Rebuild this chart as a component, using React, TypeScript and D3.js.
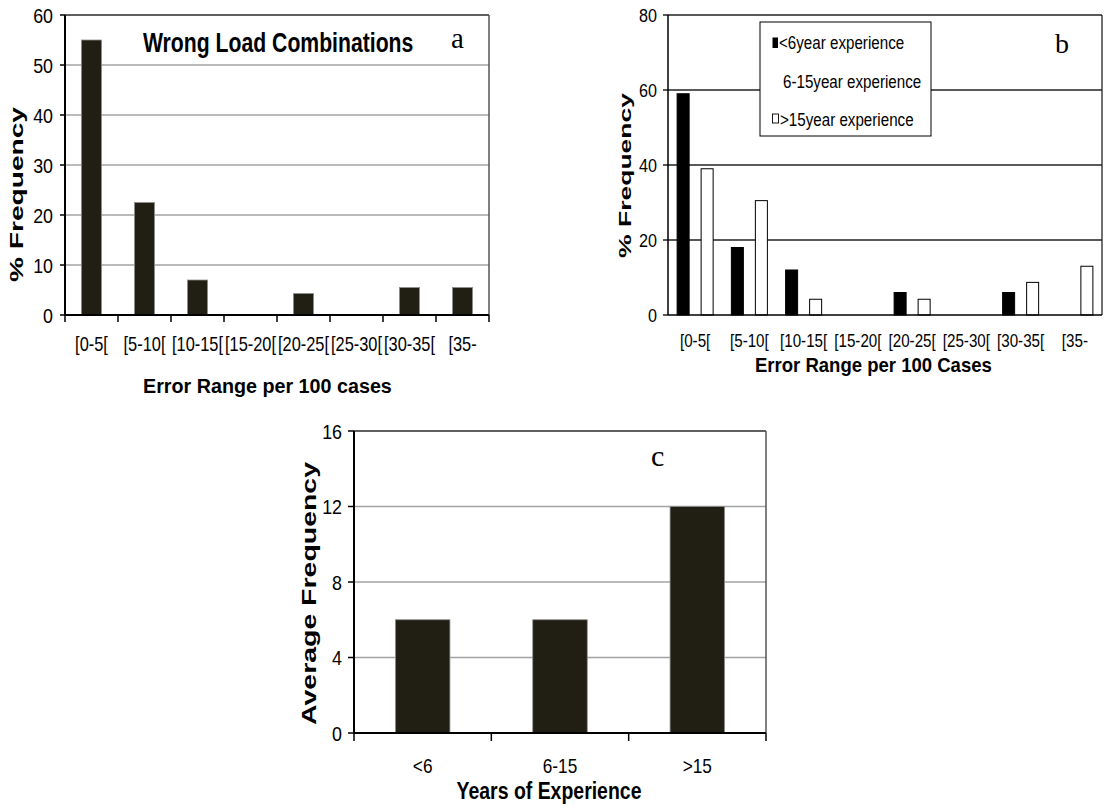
import React from "react";
import * as d3 from "d3";

// ---------- data ----------
const rangeCats = ["[0-5[", "[5-10[", "[10-15[", "[15-20[", "[20-25[", "[25-30[", "[30-35[", "[35-"];
const wrongLoadValues = [55, 22.5, 7, 0, 4.3, 0, 5.5, 5.5];
const aTicks = [0, 10, 20, 30, 40, 50, 60];

const seriesKeys = ["<6year experience", "6-15year experience", ">15year experience"];
const lessThan6 = [59, 18, 12, 0, 6, 0, 6, 0];
const from6to15 = [0, 0, 0, 0, 0, 0, 0, 0];
const moreThan15 = [39, 30.5, 4.2, 0, 4.2, 0, 8.7, 13];
const bTicks = [0, 20, 40, 60, 80];

const expCats = ["<6", "6-15", ">15"];
const avgFreq = [6, 6, 12];
const cTicks = [0, 4, 8, 12, 16];

const SANS = "'Liberation Sans', Arial, sans-serif";
const SERIF = "'Liberation Serif', 'Times New Roman', serif";
const BAR = "#211e13";

// narrow text: Liberation Sans squeezed horizontally (emulates Arial Narrow)
function NT(props: {
  x: number; y: number; size: number; anchor?: string; weight?: string; dy?: string;
  sx?: number; sy?: number; children: React.ReactNode;
}) {
  const { x, y, size, anchor = "start", weight = "normal", dy, sx = 0.82, sy = 1, children } = props;
  return (
    <text transform={`translate(${x},${y}) scale(${sx},${sy})`} textAnchor={anchor} dy={dy}
      fontFamily={SANS} fontWeight={weight} fontSize={size}>{children}</text>
  );
}

function PanelA() {
  const x = d3.scaleBand<string>().domain(rangeCats).range([65, 489]);
  const y = d3.scaleLinear().domain([0, 60]).range([315, 15]);
  const bw = x.bandwidth() * 0.38;
  return (
    <g>
      {aTicks.filter((t) => t > 0 && t < 60).map((t) => (
        <line key={t} x1={65} x2={489} y1={y(t)} y2={y(t)} stroke="#a3a3a3" strokeWidth={1.5} />
      ))}
      <line x1={65} x2={489} y1={y(60)} y2={y(60)} stroke="#2a2a2a" strokeWidth={1.5} />
      <line x1={489} x2={489} y1={y(60)} y2={y(0)} stroke="#555" strokeWidth={1.5} />
      {wrongLoadValues.map((v, i) =>
        v > 0 ? (
          <rect key={i} x={x(rangeCats[i])! + (x.bandwidth() - bw) / 2} y={y(v)} width={bw} height={y(0) - y(v)}
            fill={BAR} stroke="#8f8f8f" strokeWidth={0.8} />
        ) : null
      )}
      <line x1={65} x2={65} y1={y(60)} y2={y(0)} stroke="#000" strokeWidth={2} />
      <line x1={65} x2={489} y1={y(0)} y2={y(0)} stroke="#000" strokeWidth={2} />
      {aTicks.map((t) => (
        <g key={t}>
          <line x1={60} x2={65} y1={y(t)} y2={y(t)} stroke="#000" strokeWidth={1.5} />
          <NT x={53} y={y(t)} dy="0.36em" anchor="end" size={21} sx={0.85}>{t}</NT>
        </g>
      ))}
      {rangeCats.map((c, i) => (
        <line key={"t" + i} x1={x(c)!} x2={x(c)!} y1={315} y2={322} stroke="#000" strokeWidth={1.5} />
      ))}
      <line x1={489} x2={489} y1={315} y2={322} stroke="#000" strokeWidth={1.5} />
      {rangeCats.map((c) => (
        <NT key={c} x={x(c)! + x.bandwidth() / 2} y={351} anchor="middle" size={20}>{c}</NT>
      ))}
      <NT x={143} y={52} size={27} weight="bold" sx={0.785}>Wrong Load Combinations</NT>
      <text x={451} y={48} fontFamily={SERIF} fontSize={29}>a</text>
      <NT x={143} y={393} size={21} weight="bold" sx={0.94}>Error Range per 100 cases</NT>
      <text transform="translate(23,194.5) rotate(-90)" textAnchor="middle" fontFamily={SANS} fontWeight="bold" fontSize={17.5} textLength={175} lengthAdjust="spacingAndGlyphs">% Frequency</text>
    </g>
  );
}

function PanelB() {
  const x0 = d3.scaleBand<string>().domain(rangeCats).range([668, 1102]);
  const groupW = x0.bandwidth() * 0.664;
  const x1 = d3.scaleBand<string>().domain(seriesKeys).range([0, groupW]);
  const y = d3.scaleLinear().domain([0, 80]).range([315, 15]);
  const series = [lessThan6, from6to15, moreThan15];
  const fills = ["#000", "none", "#fff"];
  const strokes = ["#000", "none", "#000"];
  return (
    <g>
      {bTicks.filter((t) => t > 0).map((t) => (
        <line key={t} x1={668} x2={1102} y1={y(t)} y2={y(t)} stroke="#222" strokeWidth={1.3} />
      ))}
      <line x1={1102} x2={1102} y1={y(80)} y2={y(0)} stroke="#222" strokeWidth={1.3} />
      {series.map((vals, si) =>
        vals.map((v, i) =>
          v > 0 ? (
            <rect key={si + "-" + i} x={x0(rangeCats[i])! + (x0.bandwidth() - groupW) / 2 + x1(seriesKeys[si])!}
              y={y(v)} width={x1.bandwidth()} height={y(0) - y(v)} fill={fills[si]} stroke={strokes[si]} strokeWidth={1} />
          ) : null
        )
      )}
      <line x1={668} x2={668} y1={y(80)} y2={y(0)} stroke="#000" strokeWidth={1.5} />
      <line x1={668} x2={1102} y1={y(0)} y2={y(0)} stroke="#000" strokeWidth={1.5} />
      {bTicks.map((t) => (
        <g key={t}>
          <line x1={663} x2={668} y1={y(t)} y2={y(t)} stroke="#000" strokeWidth={1.3} />
          <NT x={657} y={y(t)} dy="0.36em" anchor="end" size={19} sx={0.85}>{t}</NT>
        </g>
      ))}
      {rangeCats.map((c) => (
        <NT key={c} x={x0(c)! + x0.bandwidth() / 2} y={347} anchor="middle" size={18.5}>{c}</NT>
      ))}
      <rect x={760} y={22} width={171} height={114} fill="#fff" stroke="#000" strokeWidth={1} />
      <rect x={772.5} y={37.5} width={5.5} height={10.5} fill="#000" />
      <rect x={772.5} y={114} width={6} height={9} fill="#fff" stroke="#000" strokeWidth={0.9} />
      {seriesKeys.map((k, i) => (
        <NT key={k} x={i === 0 ? 779 : i === 1 ? 783 : 780} y={49 + i * 38.5} size={18.5}>{k}</NT>
      ))}
      <text x={1055} y={53} fontFamily={SERIF} fontSize={28}>b</text>
      <NT x={755} y={372} size={20} weight="bold" sx={0.927}>Error Range per 100 Cases</NT>
      <text transform="translate(631,175.5) rotate(-90)" textAnchor="middle" fontFamily={SANS} fontWeight="bold" fontSize={17} textLength={165} lengthAdjust="spacingAndGlyphs">% Frequency</text>
    </g>
  );
}

function PanelC() {
  const x = d3.scaleBand<string>().domain(expCats).range([354, 766]);
  const y = d3.scaleLinear().domain([0, 16]).range([733, 431]);
  const bw = x.bandwidth() * 0.397;
  return (
    <g>
      {cTicks.filter((t) => t > 0 && t < 16).map((t) => (
        <line key={t} x1={354} x2={766} y1={y(t)} y2={y(t)} stroke="#a3a3a3" strokeWidth={1.5} />
      ))}
      <line x1={354} x2={766} y1={y(16)} y2={y(16)} stroke="#2a2a2a" strokeWidth={1.5} />
      <line x1={766} x2={766} y1={y(16)} y2={y(0)} stroke="#555" strokeWidth={1.5} />
      {avgFreq.map((v, i) => (
        <rect key={i} x={x(expCats[i])! + (x.bandwidth() - bw) / 2} y={y(v)} width={bw} height={y(0) - y(v)}
          fill={BAR} stroke="#8f8f8f" strokeWidth={0.8} />
      ))}
      <line x1={354} x2={354} y1={y(16)} y2={y(0)} stroke="#000" strokeWidth={2} />
      <line x1={354} x2={766} y1={y(0)} y2={y(0)} stroke="#000" strokeWidth={2} />
      {cTicks.map((t) => (
        <g key={t}>
          <line x1={348} x2={354} y1={y(t)} y2={y(t)} stroke="#000" strokeWidth={1.5} />
          <NT x={342} y={y(t)} dy="0.36em" anchor="end" size={21} sx={0.85}>{t}</NT>
        </g>
      ))}
      {expCats.map((c, i) => (
        <line key={"t" + i} x1={x(c)!} x2={x(c)!} y1={733} y2={741} stroke="#000" strokeWidth={1.5} />
      ))}
      <line x1={766} x2={766} y1={733} y2={741} stroke="#000" strokeWidth={1.5} />
      {expCats.map((c) => (
        <NT key={c} x={x(c)! + x.bandwidth() / 2} y={773} anchor="middle" size={21}>{c}</NT>
      ))}
      <text x={651} y={466} fontFamily={SERIF} fontSize={30}>c</text>
      <NT x={549} y={799} anchor="middle" size={23} weight="bold" sx={0.846}>Years of Experience</NT>
      <text transform="translate(316,593.5) rotate(-90)" textAnchor="middle" fontFamily={SANS} fontWeight="bold" fontSize={20} textLength={263} lengthAdjust="spacingAndGlyphs">Average Frequency</text>
    </g>
  );
}

export default function App() {
  return (
    <svg width={1107} height={810} viewBox="0 0 1107 810" style={{ position: "absolute", left: 0, top: 0, background: "#fff" }}>
      <rect x={0} y={0} width={1107} height={810} fill="#fff" />
      <PanelA />
      <PanelB />
      <PanelC />
    </svg>
  );
}
